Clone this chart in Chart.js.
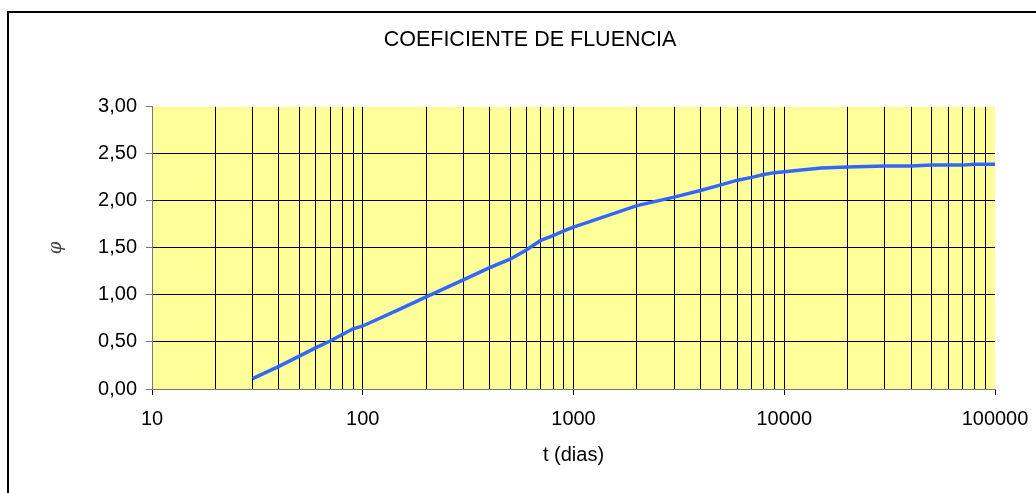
<!DOCTYPE html>
<html>
<head>
<meta charset="utf-8">
<script src="https://cdn.jsdelivr.net/npm/chart.js@4.4.1/dist/chart.umd.min.js"></script>
<style>
  body { margin: 0; background: #fff; }
</style>
</head>
<body>
<canvas id="myChart" width="1036" height="493"></canvas>
<script>
// t (dias) and creep coefficient
const days = [30, 40, 50, 60, 70, 80, 90, 100, 150, 200, 300, 400, 500, 600, 700, 800, 900, 1000,
  2000, 3000, 4000, 5000, 6000, 7000, 8000, 9000, 10000, 15000, 20000, 30000, 40000, 50000,
  60000, 70000, 80000, 90000, 100000]
const phi = [0.11, 0.24, 0.35, 0.44, 0.51, 0.58, 0.64, 0.67, 0.85, 0.98, 1.16, 1.29, 1.38, 1.48, 1.58, 1.63, 1.68, 1.72,
  1.95, 2.04, 2.11, 2.17, 2.22, 2.25, 2.28, 2.30, 2.31, 2.35, 2.36, 2.37, 2.37, 2.38,
  2.38, 2.38, 2.39, 2.39, 2.39]
const xTickLabels = [10, 100, 1000, 10000, 100000]
const yTickLabels = [0, 0.5, 1, 1.5, 2, 2.5, 3]

// grid lines at 1..9 of every decade
const xGrid = []
for (let i = 0; i < xTickLabels.length; ++i) {
  xGrid.push(xTickLabels[i])
  if (i < xTickLabels.length - 1) {
    for (let k = 2; k <= 9; k++) xGrid.push(xTickLabels[i] * k)
  }
}

const font = { family: "'Liberation Sans', Arial, sans-serif", size: 20 }

const frame = {
  id: 'frame',
  beforeDraw(chart) {
    const { ctx, chartArea } = chart
    ctx.save()
    ctx.fillStyle = '#FFFF99'
    ctx.fillRect(chartArea.left, chartArea.top, chartArea.right - chartArea.left, chartArea.bottom - chartArea.top)
    ctx.strokeStyle = '#000'
    ctx.lineWidth = 2
    ctx.beginPath()
    ctx.moveTo(8, 493)
    ctx.lineTo(8, 12)
    ctx.lineTo(1036, 12)
    ctx.stroke()
    ctx.restore()
  }
}

const ctx = document.getElementById('myChart')
const myChart = new Chart(ctx, {
  type: 'line',
  data: {
    datasets: [
      {
        data: days.map((t, i) => ({ x: t, y: phi[i] })),
        borderColor: '#3366FF',
        borderWidth: 3.5,
        pointRadius: 0,
        tension: 0,
        fill: false
      }
    ]
  },
  options: {
    responsive: false,
    animation: false,
    devicePixelRatio: 1,
    layout: { padding: { left: 65, right: 41, top: 0, bottom: 0 } },
    plugins: {
      legend: { display: false },
      tooltip: { enabled: false },
      title: {
        display: true,
        text: 'COEFICIENTE DE FLUENCIA',
        color: '#000',
        font: { ...font, size: 21.5, weight: 'normal' },
        padding: { top: 27, bottom: 54 }
      }
    },
    scales: {
      x: {
        type: 'logarithmic',
        min: 10,
        max: 100000,
        afterBuildTicks: scale => {
          scale.ticks = xGrid.map(v => ({ value: v, major: xTickLabels.includes(v) }))
        },
        afterFit: scale => {
          scale.height = 104
          scale.paddingLeft = 0
          scale.paddingRight = 0
        },
        ticks: {
          autoSkip: false,
          maxRotation: 0,
          padding: 12,
          color: '#000',
          font: font,
          callback: v => (xTickLabels.includes(v) ? String(v) : '')
        },
        grid: {
          color: c => (c.tick && (c.tick.value === 10 || c.tick.value === 100000) ? 'rgba(0,0,0,0)' : '#000'),
          tickColor: c => (c.tick && xTickLabels.includes(c.tick.value) ? '#000' : 'rgba(0,0,0,0)'),
          tickLength: 6,
          lineWidth: 1
        },
        border: { color: '#777', width: 1 },
        title: {
          display: true,
          text: 't (dias)',
          color: '#000',
          font: font,
          padding: { top: 0, bottom: 26 }
        }
      },
      y: {
        min: 0,
        max: 3,
        afterBuildTicks: scale => {
          scale.ticks = yTickLabels.map(v => ({ value: v }))
        },
        afterFit: scale => { scale.width = 87 },
        ticks: {
          padding: 9,
          color: '#000',
          font: font,
          callback: v => v.toFixed(2).replace('.', ',')
        },
        grid: {
          color: c => (c.tick && (c.tick.value === 0 || c.tick.value === 3) ? 'rgba(0,0,0,0)' : '#000'),
          tickColor: '#777',
          tickLength: 6,
          lineWidth: 1
        },
        border: { color: '#777', width: 1 },
        title: {
          display: true,
          text: 'φ',
          color: '#444',
          font: { family: "'DejaVu Serif', serif", style: 'italic', size: 18 },
          padding: { top: -19, bottom: 0 }
        }
      }
    }
  },
  plugins: [frame]
})
</script>
</body>
</html>
